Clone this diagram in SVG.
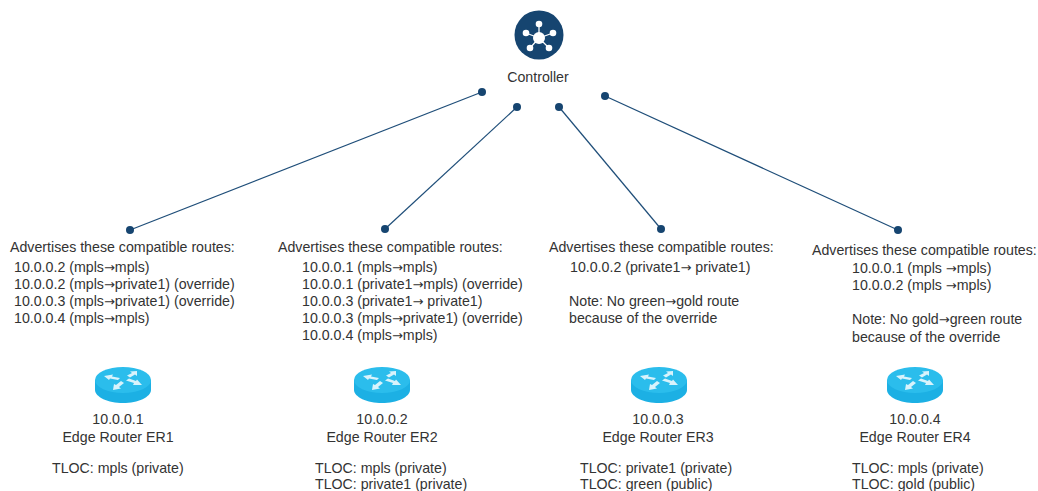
<svg xmlns="http://www.w3.org/2000/svg" width="1038" height="491" viewBox="0 0 1038 491">
<style>
text{font-family:"Liberation Sans",Arial,sans-serif;font-size:14.2px;fill:#333}
tspan{font-family:"DejaVu Sans",sans-serif;font-size:13px}
.m{text-anchor:middle}
.c line{stroke:#1f4e79;stroke-width:1.2}
.c circle{fill:#164570}
.top{fill:#2bbdec}.side{fill:#1cb0e4}.ar{fill:#d8f3fc}
</style>
<defs>
<g id="router">
<path class="side" d="M-28 -3V7C-28 14 -15 20 0 20S28 14 28 7V-3Z"/>
<ellipse class="top" cx="0" cy="-3" rx="28" ry="13"/>
<path class="ar" d="M-19 -7L-10 -8.500L-11 -6.500L-3 -5L-5 -3L-13 -4.500L-14 -3ZM14 -12L14 -7L12 -8.500L7 -5.500L4 -7.500L9 -10L7 -11.500ZM19 2L10 2L11 0L3 -2.500L6 -4.500L13 -2L14 -3.500ZM-10 7L-9 1L-7 2L-2 -2L1 0L-4 4L-2 5.500Z"/>
</g>
</defs>
<g id="controller">
<circle cx="539" cy="35" r="24.500" fill="#164570"/>
<g stroke="#fff" stroke-width="1.300"><line x1="539" y1="38" x2="539" y2="24"/><line x1="539" y1="38" x2="526" y2="33"/><line x1="539" y1="38" x2="553" y2="33"/><line x1="539" y1="38" x2="530" y2="48"/><line x1="539" y1="38" x2="549" y2="48"/></g>
<g fill="#fff"><circle cx="539" cy="38" r="6"/><circle cx="539" cy="24" r="3.300"/><circle cx="526" cy="33" r="3.300"/><circle cx="553" cy="33" r="3.300"/><circle cx="530" cy="48" r="3.300"/><circle cx="549" cy="48" r="3.300"/></g>
<text class="m" x="538" y="82">Controller</text>
</g>
<g id="connectors" class="c">
<line x1="482" y1="92" x2="130" y2="230"/><circle cx="482" cy="92" r="4"/><circle cx="130" cy="230" r="4"/>
<line x1="517" y1="107" x2="385" y2="229"/><circle cx="517" cy="107" r="4"/><circle cx="385" cy="229" r="4"/>
<line x1="559" y1="107" x2="661" y2="229"/><circle cx="559" cy="107" r="4"/><circle cx="661" cy="229" r="4"/>
<line x1="605" y1="96" x2="898" y2="230"/><circle cx="605" cy="96" r="4"/><circle cx="898" cy="230" r="4"/>
</g>
<g id="er1">
<text x="10" y="252">Advertises these compatible routes:</text>
<text x="14" y="272">10.0.0.2 (mpls<tspan>→</tspan>mpls)</text>
<text x="14" y="289">10.0.0.2 (mpls<tspan>→</tspan>private1) (override)</text>
<text x="14" y="306">10.0.0.3 (mpls<tspan>→</tspan>private1) (override)</text>
<text x="14" y="323">10.0.0.4 (mpls<tspan>→</tspan>mpls)</text>
<use href="#router" x="123" y="383"/>
<text class="m" x="118" y="424">10.0.0.1</text>
<text class="m" x="118" y="442">Edge Router ER1</text>
<text x="52" y="473">TLOC: mpls (private)</text>
</g>
<g id="er2">
<text x="278" y="252">Advertises these compatible routes:</text>
<text x="302" y="272">10.0.0.1 (mpls<tspan>→</tspan>mpls)</text>
<text x="302" y="289">10.0.0.1 (private1<tspan>→</tspan>mpls) (override)</text>
<text x="302" y="306">10.0.0.3 (private1<tspan>→</tspan> private1)</text>
<text x="302" y="323">10.0.0.3 (mpls<tspan>→</tspan>private1) (override)</text>
<text x="302" y="340">10.0.0.4 (mpls<tspan>→</tspan>mpls)</text>
<use href="#router" x="382" y="383"/>
<text class="m" x="382" y="424">10.0.0.2</text>
<text class="m" x="382" y="442">Edge Router ER2</text>
<text x="315" y="473">TLOC: mpls (private)</text>
<text x="315" y="489">TLOC: private1 (private)</text>
</g>
<g id="er3">
<text x="549" y="252">Advertises these compatible routes:</text>
<text x="570" y="272">10.0.0.2 (private1<tspan>→</tspan> private1)</text>
<text x="569" y="306">Note: No green<tspan>→</tspan>gold route</text>
<text x="569" y="323">because of the override</text>
<use href="#router" x="659" y="383"/>
<text class="m" x="658" y="424">10.0.0.3</text>
<text class="m" x="658" y="442">Edge Router ER3</text>
<text x="580" y="473">TLOC: private1 (private)</text>
<text x="580" y="489">TLOC: green (public)</text>
</g>
<g id="er4">
<text x="812" y="255">Advertises these compatible routes:</text>
<text x="852" y="273">10.0.0.1 (mpls <tspan>→</tspan>mpls)</text>
<text x="852" y="290">10.0.0.2 (mpls <tspan>→</tspan>mpls)</text>
<text x="852" y="324">Note: No gold<tspan>→</tspan>green route</text>
<text x="852" y="342">because of the override</text>
<use href="#router" x="915" y="383"/>
<text class="m" x="915" y="424">10.0.0.4</text>
<text class="m" x="915" y="442">Edge Router ER4</text>
<text x="852" y="473">TLOC: mpls (private)</text>
<text x="852" y="489">TLOC: gold (public)</text>
</g>
</svg>
